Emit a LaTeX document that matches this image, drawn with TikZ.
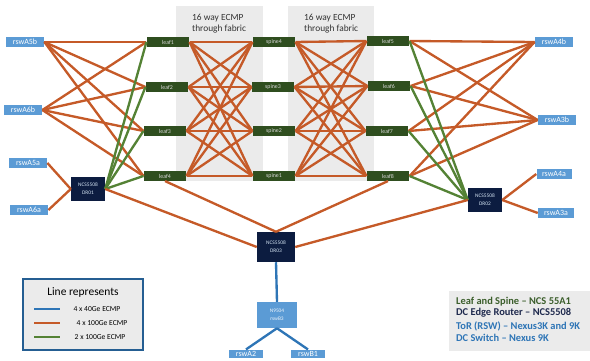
\documentclass[tikz,border=0pt]{standalone}
\usepackage{fontspec}
\setmainfont{Carlito}
\usetikzlibrary{positioning}

\definecolor{ecmporange}{RGB}{197,90,40}
\definecolor{ecmpgreen}{RGB}{84,130,53}
\definecolor{ecmpblue}{RGB}{46,117,182}
\definecolor{rswblue}{RGB}{91,155,213}
\definecolor{fabgreen}{RGB}{47,78,31}
\definecolor{ncsnavy}{RGB}{12,28,64}
\definecolor{panelgray}{RGB}{235,235,235}
\definecolor{notegreen}{RGB}{59,94,43}
\definecolor{notenavy}{RGB}{31,42,78}

\begin{document}
\begin{tikzpicture}[x=0.03cm,y=-0.03cm,
    rsw/.style={fill=rswblue,text=white,minimum width=1.15cm,minimum height=0.28cm,inner sep=0pt,font=\fontsize{6.8}{7}\selectfont},
    fab/.style={fill=fabgreen,text=white!85!black,minimum width=1.28cm,minimum height=0.29cm,inner sep=0pt,font=\fontsize{5}{6}\selectfont},
    ncs/.style={fill=ncsnavy,text=white!75!rswblue,align=center,minimum width=1.02cm,minimum height=0.7cm,inner sep=0pt,font=\fontsize{4.6}{7}\selectfont},
    g40/.style={draw=ecmpblue,line width=2pt},
    g100/.style={draw=ecmporange,line width=2pt},
    g2x/.style={draw=ecmpgreen,line width=2pt}]
                % Fix the size of the picture
                \useasboundingbox (0,0) rectangle (590,360);

                % Fabric panels
                \fill[panelgray] (176,6) rectangle (263,181);
                \fill[panelgray] (288,6) rectangle (374,181);
                \node[anchor=north west,align=left,text=black!80,font=\fontsize{8}{9.5}\selectfont] (ecmpL) at (188,10) {16 way ECMP\\through fabric};
                \node[anchor=north west,align=left,text=black!80,font=\fontsize{8}{9.5}\selectfont] (ecmpR) at (300,10) {16 way ECMP\\through fabric};

                % Leafs and spines
                \node[fab] (leaf1) at (168,42) {leaf1};
                \node[fab] (leaf2) at (167,87) {leaf2};
                \node[fab] (leaf3) at (165,131) {leaf3};
                \node[fab] (leaf4) at (165,176) {leaf4};
                \node[fab] (spine4) at (274,42) {spine4};
                \node[fab] (spine3) at (273,87) {spine3};
                \node[fab] (spine2) at (274,131) {spine2};
                \node[fab] (spine1) at (274,176) {spine1};
                \node[fab] (leaf5) at (388,41) {leaf5};
                \node[fab] (leaf6) at (389,86) {leaf6};
                \node[fab] (leaf7) at (387,131) {leaf7};
                \node[fab] (leaf8) at (388,176) {leaf8};

                % Racks
                \node[rsw] (rswA5b) at (25,42) {rswA5b};
                \node[rsw] (rswA6b) at (23,110) {rswA6b};
                \node[rsw] (rswA5a) at (28,163) {rswA5a};
                \node[rsw] (rswA6a) at (29,210) {rswA6a};
                \node[rsw] (rswA4b) at (554,42) {rswA4b};
                \node[rsw] (rswA3b) at (557,120) {rswA3b};
                \node[rsw,minimum width=1.05cm] (rswA4a) at (554,174) {rswA4a};
                \node[rsw,minimum width=1.08cm] (rswA3a) at (556,213) {rswA3a};
                \node[rsw,minimum width=1.02cm,minimum height=0.26cm] (rswA2) at (246,354) {rswA2};
                \node[rsw,minimum width=1.02cm,minimum height=0.26cm] (rswB1) at (308,354) {rswB1};

                % Edge routers and DC switch
                \node[ncs] (dr01) at (88,189) {NCS5508\\DR01};
                \node[ncs] (dr02) at (485,200) {NCS5508\\DR02};
                \node[ncs,minimum width=1.14cm,minimum height=0.9cm] (dr03) at (276,247) {NCS5508\\DR03};
                \node[ncs,fill=rswblue,text=white!90!rswblue,minimum width=1.2cm,minimum height=0.78cm] (n9504) at (277,315) {N9504\\rswB3};

                % Leaf to spine mesh
                \foreach \l in {1,...,4}
                  \foreach \s in {1,...,4}
                    \draw[g100] (leaf\l.east) -- (spine\s.west);
                \foreach \l in {5,...,8}
                  \foreach \s in {1,...,4}
                    \draw[g100] (spine\s.east) -- (leaf\l.west);

                % Racks to leafs
                \foreach \r in {rswA5b,rswA6b}
                  \foreach \l in {1,...,4}
                    \draw[g100] (\r.east) -- (leaf\l.west);
                \foreach \r in {rswA4b,rswA3b}
                  \foreach \l in {5,...,8}
                    \draw[g100] (leaf\l.east) -- (\r.west);

                % Edge routers to leafs
                \foreach \l in {1,...,4}
                  \draw[g2x] (dr01.east) -- (leaf\l.west);
                \foreach \l in {5,...,8}
                  \draw[g2x] (leaf\l.east) -- (dr02.west);

                % Racks to edge routers
                \draw[g100] (rswA5a.east) -- (dr01.west);
                \draw[g100] (rswA6a.east) -- (dr01.west);
                \draw[g100] (dr02.east) -- (rswA4a.west);
                \draw[g100] (dr02.east) -- (rswA3a.west);

                % Towards DR03
                \draw[g100] (dr01.east) -- (dr03.west);
                \draw[g100] (leaf4.south) -- (dr03.north);
                \draw[g100] (leaf8.south) -- (dr03.north);
                \draw[g100] (dr02.west) -- (dr03.east);
                \draw[g40] (dr03.south) -- (n9504.north);
                \draw[g40] (n9504.south) -- (rswA2.north);
                \draw[g40] (n9504.south) -- (rswB1.north);

                % Legend
                \draw[draw=ecmpblue!80!black,fill=panelgray,line width=1.6pt] (23,279) rectangle (143,350);
                \node[font=\fontsize{9.8}{11}\selectfont] (legtitle) at (83,292) {Line represents};
                \draw[g40] (34,309) -- (60,309);
                \draw[g100] (34,323) -- (60,323);
                \draw[g2x] (34,337) -- (60,337);
                \node[font=\fontsize{6.5}{7}\selectfont] (leg40) at (97,309) {4 x 40Ge ECMP};
                \node[font=\fontsize{6.5}{7}\selectfont] (leg100) at (102,323) {4 x 100Ge ECMP};
                \node[font=\fontsize{6.5}{7}\selectfont] (leg2x) at (100,337) {2 x 100Ge ECMP};

                % Hardware notes
                \fill[panelgray] (449,291) rectangle (590,351);
                \node[anchor=west,text=notegreen,font=\bfseries\fontsize{8.9}{10}\selectfont] (note1) at (452,302) {Leaf and Spine -- NCS 55A1};
                \node[anchor=west,text=notenavy,font=\bfseries\fontsize{8.9}{10}\selectfont] (note2) at (452,313) {DC Edge Router -- NCS5508};
                \node[anchor=west,text=ecmpblue,font=\bfseries\fontsize{8.9}{10}\selectfont] (note3) at (452,326) {ToR (RSW) -- Nexus3K and 9K};
                \node[anchor=west,text=ecmpblue,font=\bfseries\fontsize{8.9}{10}\selectfont] (note4) at (452,338) {DC Switch -- Nexus 9K};

            \end{tikzpicture}
\end{document}
